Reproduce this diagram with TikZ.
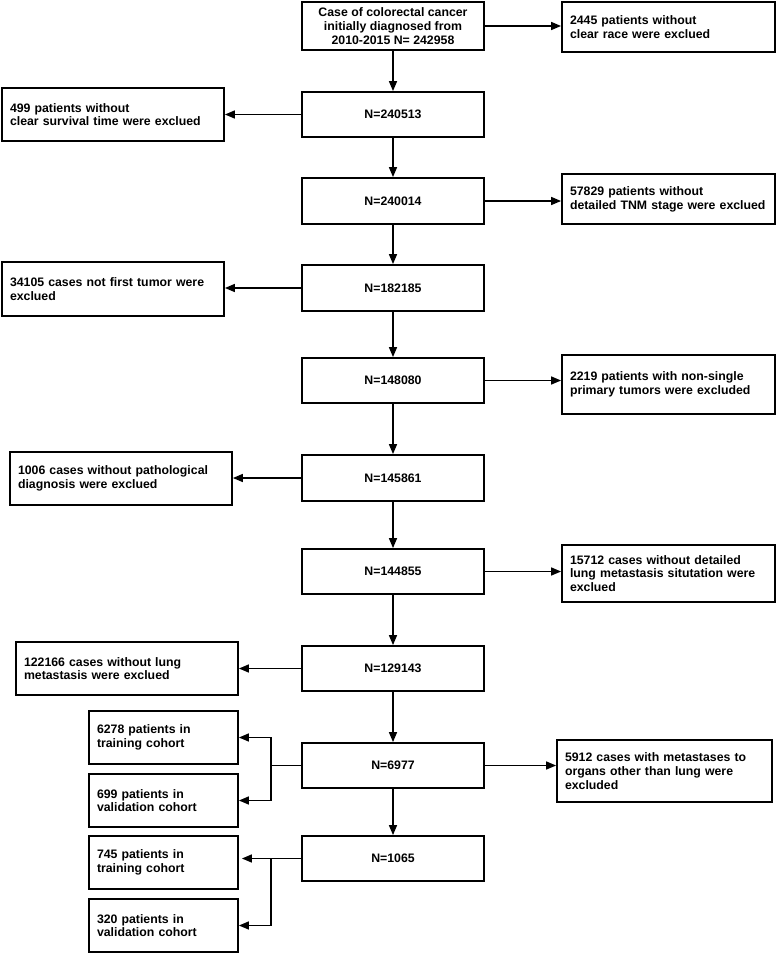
\documentclass[tikz,border=0pt]{standalone}
\usepackage{fontspec}
\setmainfont{Liberation Sans}
\usetikzlibrary{arrows.meta}

\begin{document}
\begin{tikzpicture}[x=1pt,y=-1pt]
\tikzstyle{every node}=[draw,line width=1.8pt,font=\bfseries\fontsize{12.3}{13.7}\selectfont,inner sep=0pt];
\tikzstyle{main}=[minimum width=182pt,minimum height=45pt,align=center];
\tikzstyle{side}=[align=left,inner xsep=8pt];
\tikzstyle{line}=[line width=1.5pt,-{Triangle[length=10pt,width=8pt]}];

\useasboundingbox (0,0) rectangle (777,954);

% main column
\node[main,minimum height=48pt] (n0) at (393,26) {Case of colorectal cancer\\initially diagnosed from\\2010-2015 N= 242958};
\node[main] (n1) at (393,114.5) {N=240513};
\node[main,minimum height=46pt] (n2) at (393,201) {N=240014};
\node[main,minimum height=46pt] (n3) at (393,288) {N=182185};
\node[main] (n4) at (393,380.5) {N=148080};
\node[main,minimum height=46pt] (n5) at (393,478) {N=145861};
\node[main] (n6) at (393,571.5) {N=144855};
\node[main] (n7) at (393,668.5) {N=129143};
\node[main] (n8) at (393,765.5) {N=6977};
\node[main] (n9) at (393,858.5) {N=1065};

% excluded
\node[side,text width=197pt,minimum height=50pt] (s1) at (668.5,27) {2445 patients without\\clear race were exclued};
\node[side,text width=206pt,minimum height=53pt] (s2) at (113,114.5) {499 patients without\\clear survival time were exclued};
\node[side,text width=197pt,minimum height=50pt] (s3) at (668.5,199) {57829 patients without\\detailed TNM stage were exclued};
\node[side,text width=206pt,minimum height=54pt] (s4) at (113,289) {34105 cases not first tumor were\\exclued};
\node[side,text width=197pt,minimum height=59pt] (s5) at (668.5,384.5) {2219 patients with non-single\\primary tumors were excluded};
\node[side,text width=206pt,minimum height=53pt] (s6) at (121,478.5) {1006 cases without pathological\\diagnosis were exclued};
\node[side,text width=197pt,minimum height=57pt] (s7) at (668.5,573.5) {15712 cases without detailed\\lung metastasis situtation were\\exclued};
\node[side,text width=206pt,minimum height=53pt] (s8) at (127,668.5) {122166 cases without lung\\metastasis were exclued};
\node[side,text width=199pt,minimum height=62pt] (s9) at (664.5,771) {5912 cases with metastases to\\organs other than lung were\\excluded};

% cohorts
\node[side,text width=133pt,minimum height=53pt] (c1) at (163.5,737.5) {6278 patients in\\training cohort};
\node[side,text width=133pt,minimum height=53pt] (c2) at (163.5,800.5) {699 patients in\\validation cohort};
\node[side,text width=133pt,minimum height=53pt] (c3) at (163.5,862.5) {745 patients in\\training cohort};
\node[side,text width=133pt,minimum height=53pt] (c4) at (163.5,925.5) {320 patients in\\validation cohort};

\coordinate (b1) at (271,765.5);
\coordinate (b2) at (271,858.5);

% arrows
\draw[line] (n0) -- (n1);
\draw[line] (n1) -- (n2);
\draw[line] (n2) -- (n3);
\draw[line] (n3) -- (n4);
\draw[line] (n4) -- (n5);
\draw[line] (n5) -- (n6);
\draw[line] (n6) -- (n7);
\draw[line] (n7) -- (n8);
\draw[line] (n8) -- (n9);

\draw[line] (n0.east) -- (n0.east -| s1.west);
\draw[line] (n1.west) -- (n1.west -| s2.east);
\draw[line] (n2.east) -- (n2.east -| s3.west);
\draw[line] (n3.west) -- (n3.west -| s4.east);
\draw[line] (n4.east) -- (n4.east -| s5.west);
\draw[line] (n5.west) -- (n5.west -| s6.east);
\draw[line] (n6.east) -- (n6.east -| s7.west);
\draw[line] (n7.west) -- (n7.west -| s8.east);
\draw[line] (n8.east) -- (n8.east -| s9.west);

\draw[line width=1.5pt] (n8.west) -- (b1);
\draw[line] (b1) |- (c1.east);
\draw[line] (b1) |- (c2.east);
\draw[line] (n9.west) -- ([xshift=3pt]n9.west -| c3.east);
\draw[line] (b2) |- (c4.east);
\end{tikzpicture}
\end{document}
